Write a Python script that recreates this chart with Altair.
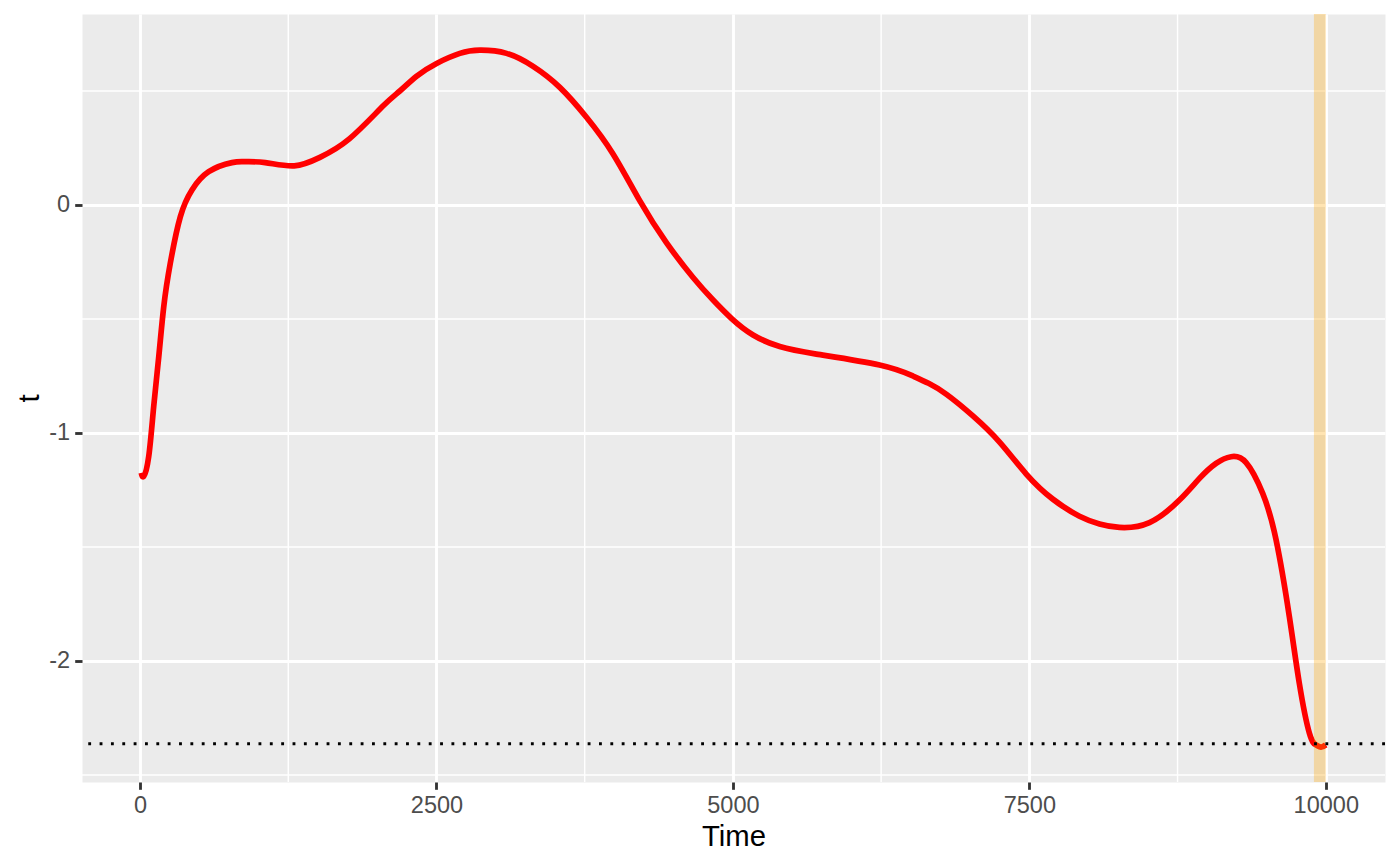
import altair as alt
import pandas as pd

# Curve samples
time = [10, 31, 73, 115, 158, 200, 255, 340, 438, 579, 775, 888, 1056, 1300, 1517,
        1765, 2051, 2191, 2332, 2501, 2697, 2866, 3091, 3315, 3540, 3765, 3989, 4214,
        4439, 4664, 4833, 4987, 5170, 5395, 5704, 6237, 6518, 6650, 6800, 7024, 7249,
        7474, 7698, 7923, 8092, 8260, 8513, 8766, 8935, 9075, 9202, 9328, 9468, 9581,
        9693, 9777, 9862, 9918, 9960, 10000]
t_values = [-1.175, -1.19, -1.104, -0.885, -0.665, -0.446, -0.256, -0.051, 0.066, 0.146,
            0.186, 0.19, 0.186, 0.172, 0.209, 0.29, 0.435, 0.50, 0.565, 0.621, 0.665,
            0.679, 0.665, 0.608, 0.516, 0.385, 0.224, 0.019, -0.165, -0.318, -0.417,
            -0.497, -0.570, -0.621, -0.654, -0.702, -0.75, -0.782, -0.83, -0.925,
            -1.04, -1.18, -1.29, -1.365, -1.399, -1.414, -1.393, -1.294, -1.199, -1.133,
            -1.104, -1.13, -1.265, -1.469, -1.806, -2.098, -2.317, -2.368, -2.378, -2.368]

threshold = [-2.363]
band_start = [9900]
band_end = [10000]

x_major = [0, 2500, 5000, 7500, 10000]
x_minor = [1250, 3750, 6250, 8750]
y_major = [-2, -1, 0]
y_minor = [-2.5, -1.5, -0.5, 0.5]

x_domain = [-489.5, 10499.5]
y_domain = [-2.5307, 0.8377]

FONT = "Liberation Sans"

curve = pd.DataFrame({"Time": time, "t": t_values})
band = pd.DataFrame({"start": band_start, "end": band_end})
hline = pd.DataFrame({"y": threshold})
xminor = pd.DataFrame({"x": x_minor})
yminor = pd.DataFrame({"y": y_minor})

xscale = alt.Scale(domain=x_domain, nice=False, zero=False)
yscale = alt.Scale(domain=y_domain, nice=False, zero=False)

xaxis = alt.Axis(
    values=x_major, title="Time", grid=True, gridColor="white", gridWidth=2.85,
    domain=False, tickColor="#333333", tickWidth=2.85, tickSize=7.3,
    labelFont=FONT, labelFontSize=23.5, labelColor="#4D4D4D", labelPadding=4,
    titleFont=FONT, titleFontSize=29.3, titleColor="black", titleFontWeight="normal",
    titlePadding=6, format="d", labelFlush=False,
)
yaxis = alt.Axis(
    values=y_major, title="t", grid=True, gridColor="white", gridWidth=2.85,
    domain=False, tickColor="#333333", tickWidth=2.85, tickSize=7.3,
    labelFont=FONT, labelFontSize=23.5, labelColor="#4D4D4D", labelPadding=5,
    labelExpr="toString(datum.value)",
    titleFont=FONT, titleFontSize=29.3, titleColor="black", titleFontWeight="normal",
    titlePadding=4,
)

minor_x = alt.Chart(xminor).mark_rule(color="white", strokeWidth=1.42).encode(
    x=alt.X("x:Q", scale=xscale, axis=xaxis)
)
minor_y = alt.Chart(yminor).mark_rule(color="white", strokeWidth=1.42).encode(
    y=alt.Y("y:Q", scale=yscale, axis=yaxis)
)

line = alt.Chart(curve).mark_line(
    color="#FF0000", strokeWidth=5.7, interpolate="natural", clip=True
).encode(
    x=alt.X("Time:Q", scale=xscale, axis=xaxis),
    y=alt.Y("t:Q", scale=yscale, axis=yaxis),
)

rect = alt.Chart(band).mark_rect(color="orange", opacity=0.3).encode(
    x=alt.X("start:Q", scale=xscale, axis=xaxis),
    x2="end:Q",
)

dotted = alt.Chart(hline).mark_rule(
    color="black", strokeWidth=2.85, strokeDash=[2.85, 8.5], strokeCap="butt"
).encode(y=alt.Y("y:Q", scale=yscale, axis=yaxis))

chart = alt.layer(minor_x, minor_y, line, rect, dotted).properties(
    width=1303,
    height=768,
    autosize=alt.AutoSizeParams(type="none"),
    padding={"left": 74, "top": 6, "right": 7, "bottom": 70},
    background="white",
).configure_view(fill="#EBEBEB", stroke="transparent")

chart.save("out.html", embed_options={"renderer": "svg", "actions": False})
